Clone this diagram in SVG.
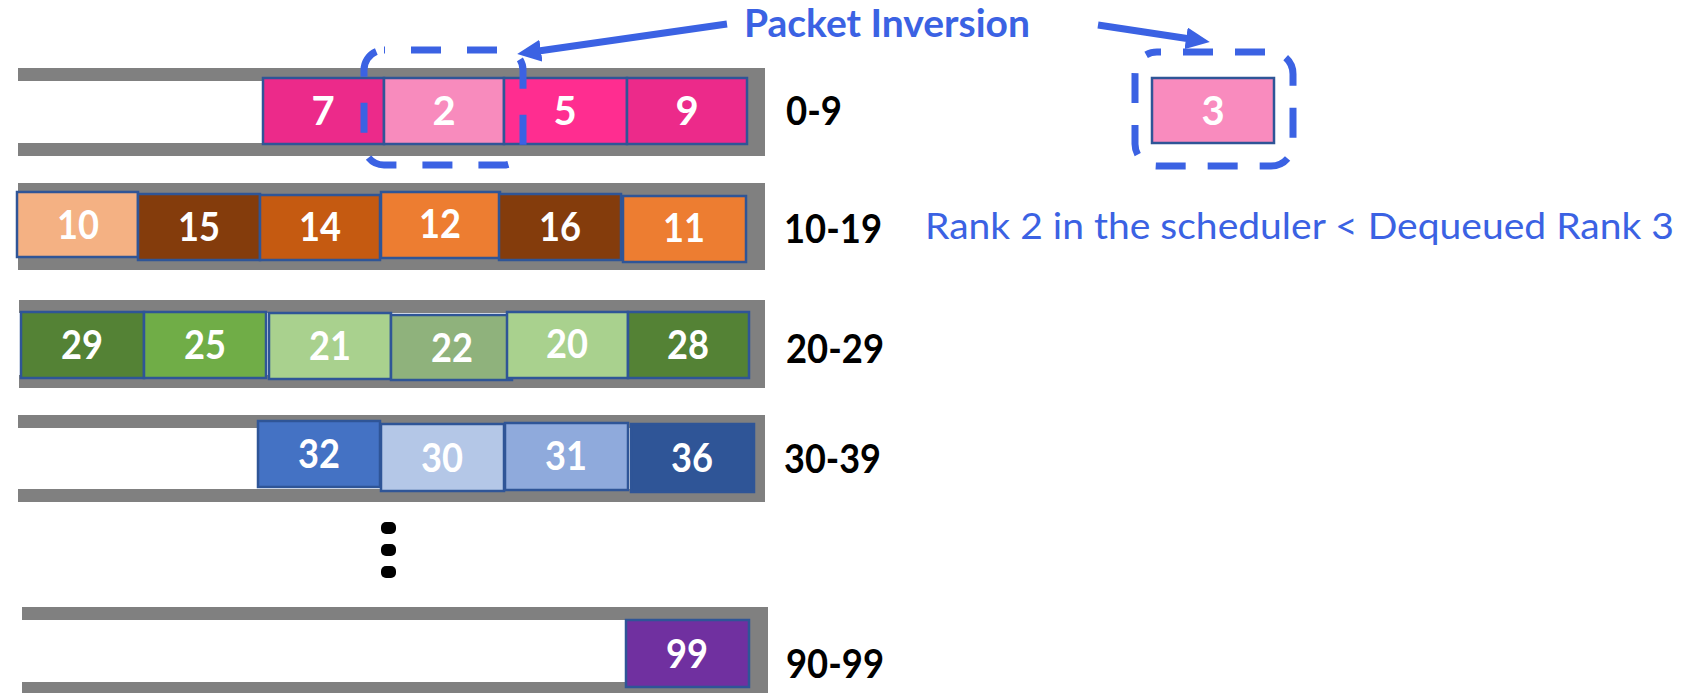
<svg xmlns="http://www.w3.org/2000/svg" width="1703" height="693" viewBox="0 0 1703 693">
<style>
.bar{fill:#808080}
.pk{stroke:#2F5597;stroke-width:2.5}
.pt{font-family:Lato,"Open Sans","Liberation Sans",sans-serif;font-weight:bold;font-size:40px;fill:#fff;text-anchor:middle}
.lbl{font-family:Lato,"Open Sans","Liberation Sans",sans-serif;font-weight:bold;font-size:40px;fill:#000}
.dash{fill:none;stroke:#3B62E3;stroke-width:7}
.blue{fill:#3B62E3;font-family:Lato,"Open Sans","Liberation Sans",sans-serif}
.dot{fill:#000}
</style>
<defs>
<marker id="ah" viewBox="0 0 24 22" refX="6" refY="11" markerWidth="24" markerHeight="22" markerUnits="userSpaceOnUse" orient="auto">
<path d="M0,0 L24,11 L0,22 z" fill="#3B62E3"/>
</marker>
</defs>
<rect width="1703" height="693" fill="#fff"/>

<g id="row-0-9">
<rect class="bar" x="18" y="68" width="747" height="13"/>
<rect class="bar" x="18" y="143" width="747" height="13"/>
<rect class="bar" x="747" y="68" width="18" height="88"/>
<rect class="pk" x="263" y="78" width="121" height="66" fill="#EC2A8A"/>
<rect class="pk" x="384" y="78" width="120" height="66" fill="#F88BBD"/>
<rect class="pk" x="504" y="78" width="123" height="66" fill="#FF2D90"/>
<rect class="pk" x="627" y="78" width="120" height="66" fill="#EC2A8A"/>
<text class="pt" x="323" y="125">7</text>
<text class="pt" x="444" y="125">2</text>
<text class="pt" x="565" y="125">5</text>
<text class="pt" x="687" y="125">9</text>
<text class="lbl" x="786" y="125" textLength="56" lengthAdjust="spacingAndGlyphs">0-9</text>
</g>

<g id="row-10-19">
<rect class="bar" x="18" y="183" width="747" height="12"/>
<rect class="bar" x="18" y="258" width="747" height="12"/>
<rect class="bar" x="746" y="183" width="19" height="87"/>
<rect class="pk" x="17" y="192" width="121" height="65" fill="#F4B183"/>
<rect class="pk" x="138" y="194" width="122" height="66" fill="#843C0C"/>
<rect class="pk" x="260" y="195" width="120" height="65" fill="#C55A11"/>
<rect class="pk" x="381" y="192" width="119" height="66" fill="#ED7D31"/>
<rect class="pk" x="499" y="194" width="122" height="66" fill="#843C0C"/>
<rect class="pk" x="623" y="196" width="123" height="66" fill="#ED7D31"/>
<text class="pt" x="78" y="239" textLength="42" lengthAdjust="spacingAndGlyphs">10</text>
<text class="pt" x="199" y="241" textLength="42" lengthAdjust="spacingAndGlyphs">15</text>
<text class="pt" x="320" y="241" textLength="42" lengthAdjust="spacingAndGlyphs">14</text>
<text class="pt" x="440" y="238" textLength="42" lengthAdjust="spacingAndGlyphs">12</text>
<text class="pt" x="560" y="241" textLength="42" lengthAdjust="spacingAndGlyphs">16</text>
<text class="pt" x="684" y="242" textLength="42" lengthAdjust="spacingAndGlyphs">11</text>
<text class="lbl" x="784" y="243" textLength="98" lengthAdjust="spacingAndGlyphs">10-19</text>
</g>

<g id="row-20-29">
<rect class="bar" x="19" y="300" width="746" height="13"/>
<rect class="bar" x="19" y="375" width="746" height="13"/>
<rect class="bar" x="748" y="300" width="17" height="88"/>
<rect class="pk" x="21" y="312" width="123" height="66" fill="#548235"/>
<rect class="pk" x="144" y="312" width="122" height="66" fill="#70AD47"/>
<rect class="pk" x="269" y="313" width="122" height="66" fill="#A9D18E"/>
<rect class="pk" x="391" y="315" width="121" height="65" fill="#8FB27C"/>
<rect class="pk" x="507" y="312" width="121" height="66" fill="#A9D18E"/>
<rect class="pk" x="628" y="312" width="121" height="66" fill="#548235"/>
<text class="pt" x="82" y="359" textLength="42" lengthAdjust="spacingAndGlyphs">29</text>
<text class="pt" x="205" y="359" textLength="42" lengthAdjust="spacingAndGlyphs">25</text>
<text class="pt" x="330" y="360" textLength="42" lengthAdjust="spacingAndGlyphs">21</text>
<text class="pt" x="452" y="362" textLength="42" lengthAdjust="spacingAndGlyphs">22</text>
<text class="pt" x="567" y="358" textLength="42" lengthAdjust="spacingAndGlyphs">20</text>
<text class="pt" x="688" y="359" textLength="42" lengthAdjust="spacingAndGlyphs">28</text>
<text class="lbl" x="786" y="363" textLength="98" lengthAdjust="spacingAndGlyphs">20-29</text>
</g>

<g id="row-30-39">
<rect class="bar" x="18" y="415" width="747" height="13"/>
<rect class="bar" x="18" y="489" width="747" height="13"/>
<rect class="bar" x="748" y="415" width="17" height="87"/>
<rect class="pk" x="258" y="421" width="122" height="66" fill="#4472C4"/>
<rect class="pk" x="381" y="424" width="123" height="67" fill="#B4C7E7"/>
<rect class="pk" x="505" y="423" width="123" height="67" fill="#8FAADC"/>
<rect class="pk" x="631" y="424" width="123" height="68" fill="#2F5597"/>
<text class="pt" x="319" y="468" textLength="42" lengthAdjust="spacingAndGlyphs">32</text>
<text class="pt" x="442" y="472" textLength="42" lengthAdjust="spacingAndGlyphs">30</text>
<text class="pt" x="566" y="470" textLength="42" lengthAdjust="spacingAndGlyphs">31</text>
<text class="pt" x="692" y="472" textLength="42" lengthAdjust="spacingAndGlyphs">36</text>
<text class="lbl" x="784" y="473" textLength="97" lengthAdjust="spacingAndGlyphs">30-39</text>
</g>

<g id="ellipsis">
<rect class="dot" x="381" y="522" width="15" height="12" rx="5"/>
<rect class="dot" x="381" y="544" width="15" height="12" rx="5"/>
<rect class="dot" x="381" y="566" width="15" height="12" rx="5"/>
</g>

<g id="row-90-99">
<rect class="bar" x="22" y="607" width="746" height="13"/>
<rect class="bar" x="22" y="682" width="746" height="11"/>
<rect class="bar" x="749" y="607" width="19" height="86"/>
<rect class="pk" x="626" y="620" width="123" height="67" fill="#7030A0"/>
<text class="pt" x="687" y="668" textLength="42" lengthAdjust="spacingAndGlyphs">99</text>
<text class="lbl" x="786" y="678" textLength="98" lengthAdjust="spacingAndGlyphs">90-99</text>
</g>

<g id="dequeued">
<rect class="pk" x="1152" y="78" width="122" height="65" fill="#F98BBE"/>
<text class="pt" x="1213" y="125">3</text>
</g>

<g id="inversion-box-scheduler">
<rect class="dash" x="364" y="50" width="159" height="115" rx="20" stroke-dasharray="30 26" stroke-dashoffset="29"/>
</g>
<g id="inversion-box-dequeued">
<rect class="dash" x="1135" y="52" width="158" height="114" rx="22" stroke-dasharray="30 22" stroke-dashoffset="26"/>
</g>

<g id="title">
<text class="blue" x="744" y="37" font-size="39" font-weight="bold" textLength="286" lengthAdjust="spacingAndGlyphs">Packet Inversion</text>
</g>
<g id="caption">
<text class="blue" x="925" y="239" font-size="37" textLength="749" lengthAdjust="spacingAndGlyphs">Rank 2 in the scheduler &lt; Dequeued Rank 3</text>
</g>

<g id="connectors">
<line x1="727" y1="24" x2="535" y2="51.5" stroke="#3B62E3" stroke-width="7" marker-end="url(#ah)"/>
<line x1="1098" y1="25" x2="1192" y2="39.3" stroke="#3B62E3" stroke-width="7" marker-end="url(#ah)"/>
</g>
</svg>
